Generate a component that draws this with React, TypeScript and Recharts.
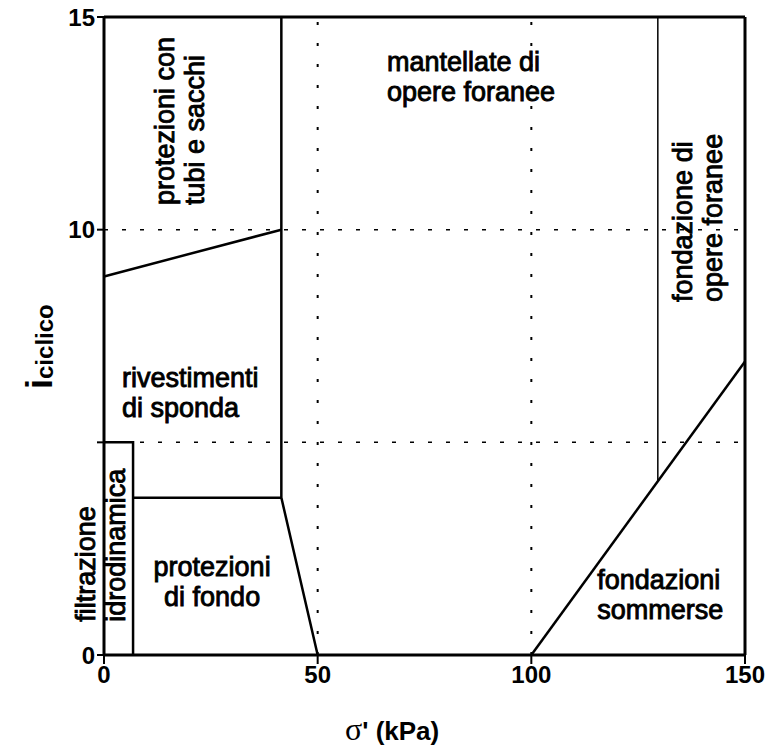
import React from 'react'
import { ComposedChart, Line, Scatter, XAxis, YAxis, ReferenceLine, Label } from 'recharts'

// boundaries between application fields (sigma' in kPa, i ciclico)
const upperLeftEdge = [{ x: 0, y: 8.9 }, { x: 41.5, y: 10 }]
const fortyLine = [{ x: 41.5, y: 15 }, { x: 41.5, y: 3.7 }, { x: 50, y: 0 }]
const fondoTop = [{ x: 6.8, y: 3.7 }, { x: 41.5, y: 3.7 }]
const filtrBox = [{ x: 0, y: 5 }, { x: 6.8, y: 5 }, { x: 6.8, y: 0 }]
const foraneeEdge = [{ x: 129.6, y: 15 }, { x: 129.6, y: 4.1 }]
const sommerseEdge = [{ x: 100, y: 0 }, { x: 150, y: 6.9 }]

const xTicks = [0, 50, 100, 150]
const yTicks = [0, 5, 10, 15]
const yTicksRight = [5, 10]

const regionLabels = [
  { x: 19.9, y: 10.58, lines: ['protezioni con', 'tubi e sacchi'], anchor: 'start', vertical: true },
  { x: 66.2, y: 13.37, lines: ['mantellate di', 'opere foranee'], anchor: 'start', vertical: false },
  { x: 4.2, y: 5.95, lines: ['rivestimenti', 'di sponda'], anchor: 'start', vertical: false },
  { x: 1.29, y: 0.78, lines: ['filtrazione', 'idrodinamica'], anchor: 'start', vertical: true },
  { x: 25.3, y: 1.5, lines: ['protezioni', 'di fondo'], anchor: 'middle', vertical: false },
  { x: 141.1, y: 8.3, lines: ['fondazione di', 'opere foranee'], anchor: 'start', vertical: true },
  { x: 115.4, y: 1.2, lines: ['fondazioni', 'sommerse'], anchor: 'start', vertical: false },
]

const SANS = 'Liberation Sans, Arial, sans-serif'

const RegionLabel = (props: any) => {
  const { cx, cy, payload } = props
  if (cx == null || cy == null) return null
  const n = payload.lines.length
  return (
    <text
      transform={payload.vertical ? `rotate(-90 ${cx} ${cy})` : undefined}
      x={cx}
      y={cy}
      textAnchor={payload.anchor}
      fontFamily={SANS}
      fontSize={27}
      fill='#000'
      stroke='#000'
      strokeWidth={0.9}
    >
      {payload.lines.map((l: string, i: number) => (
        <tspan key={i} x={cx} y={cy + (i - (n - 1) / 2) * 30}>
          {l}
        </tspan>
      ))}
    </text>
  )
}

const XTitle = () => (
  <text x={345} y={740} fill='#000'>
    <tspan fontFamily='Liberation Serif, Times New Roman, serif' fontSize={32}>σ</tspan>
    <tspan fontFamily={SANS} fontWeight='bold' fontSize={26}>' (kPa)</tspan>
  </text>
)

const YTitle = () => (
  <text transform='translate(52 389) rotate(-90)' fill='#000' fontFamily={SANS} fontWeight='bold'>
    <tspan fontSize={36}>i</tspan>
    <tspan fontSize={24} dy={1}>ciclico</tspan>
  </text>
)

const tickStyle = { fontFamily: SANS, fontWeight: 'bold' as const, fontSize: 24, fill: '#000' }

export default function App() {
  const seg = (data: { x: number; y: number }[], w = 2.5) => (
    <Line
      data={data}
      dataKey='y'
      type='linear'
      stroke='#000'
      strokeWidth={w}
      dot={false}
      activeDot={false}
      isAnimationActive={false}
    />
  )
  return (
    <div style={{ position: 'absolute', left: 0, top: 0, background: '#fff' }}>
      <ComposedChart width={775} height={748} margin={{ top: 17, right: 20, left: 44, bottom: 53 }}>
        <XAxis
          type='number'
          dataKey='x'
          domain={[0, 150]}
          ticks={xTicks}
          axisLine={{ stroke: '#000', strokeWidth: 3 }}
          tickLine={{ stroke: '#000', strokeWidth: 2 }}
          tickSize={9}
          tick={tickStyle}
          height={40}
        >
          <Label content={<XTitle />} />
        </XAxis>
        <YAxis
          type='number'
          dataKey='y'
          domain={[0, 15]}
          ticks={yTicks}
          tickFormatter={(v: number) => (v === 5 ? '' : String(v))}
          axisLine={{ stroke: '#000', strokeWidth: 3 }}
          tickLine={{ stroke: '#000', strokeWidth: 2 }}
          tickSize={7}
          tick={tickStyle}
          width={60}
        >
          <Label content={<YTitle />} />
        </YAxis>
        <YAxis
          yAxisId='right'
          orientation='right'
          type='number'
          domain={[0, 15]}
          ticks={yTicksRight}
          axisLine={{ stroke: '#000', strokeWidth: 3 }}
          tickLine={{ stroke: '#000', strokeWidth: 1.5 }}
          tickSize={7}
          tick={false}
          width={10}
        />
        <ReferenceLine x={50} stroke='#000' strokeWidth={2} strokeDasharray='3 18' />
        <ReferenceLine x={100} stroke='#000' strokeWidth={2} strokeDasharray='3 18' />
        <ReferenceLine y={5} stroke='#000' strokeWidth={1.5} strokeDasharray='4 14' />
        <ReferenceLine y={10} stroke='#000' strokeWidth={1.5} strokeDasharray='4 14' />
        <ReferenceLine y={15} stroke='#000' strokeWidth={3} />
        {seg(upperLeftEdge)}
        {seg(fortyLine)}
        {seg(fondoTop)}
        {seg(filtrBox)}
        {seg(foraneeEdge, 1.5)}
        {seg(sommerseEdge)}
        <Scatter data={regionLabels} dataKey='y' shape={RegionLabel} isAnimationActive={false} />
      </ComposedChart>
    </div>
  )
}
